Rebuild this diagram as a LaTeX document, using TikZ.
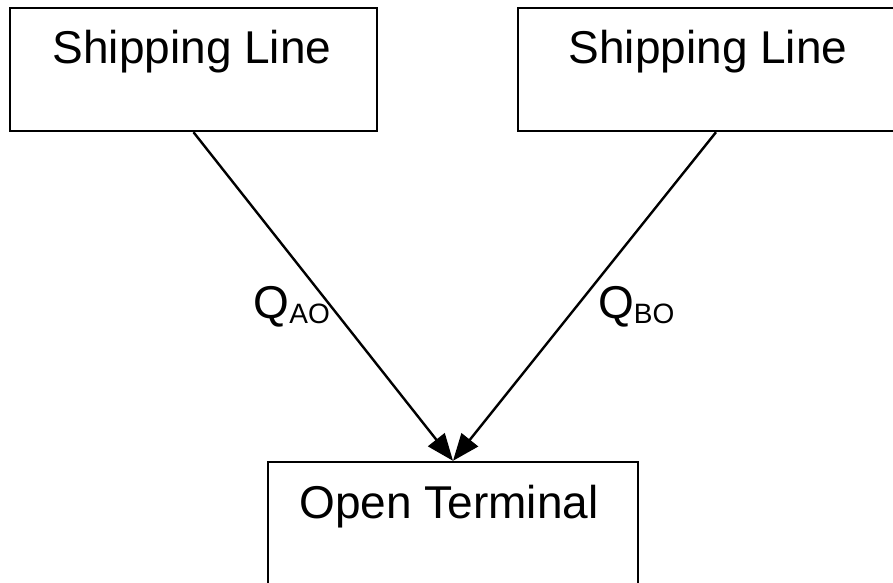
\documentclass[tikz,border=0pt]{standalone}
\usepackage{fontspec}
\setmainfont{Liberation Sans}
\usetikzlibrary{arrows.meta}

\tikzset{
  box/.style={draw=black, line width=2.4pt, rectangle, inner sep=0pt, fill=none},
  boxtext/.style={anchor=base, inner sep=0pt, font=\fontsize{46}{55}\selectfont},
  flowlabel/.style={inner sep=0pt, font=\fontsize{46}{55}\selectfont},
  flow/.style={draw=black, line width=2.4pt, -{Triangle[length=27pt,width=21pt]}}
}
\newcommand{\qsub}[1]{Q\raisebox{-5pt}{\fontsize{28}{30}\selectfont #1}}

\begin{document}
\begin{tikzpicture}[x=1pt, y=-1pt]
  \useasboundingbox (0,0) rectangle (893,582);
  \fill[white] (0,0) rectangle (893,582);
  \clip (0,0) rectangle (893,582);

  % the three parties
  \node[box, minimum width=367pt, minimum height=123pt] (lineA) at (193.5,69.5) {};
  \node[box, minimum width=396pt, minimum height=123pt] (lineB) at (716,69.5) {};
  \node[box, minimum width=370pt, minimum height=150pt] (term) at (453,537) {};

  \node[boxtext] (lineAtext) at (192,63) {Shipping Line};
  \node[boxtext] (lineBtext) at (708,63) {Shipping Line};
  \node[boxtext] (termtext) at (449,518) {Open Terminal};

  % flows into the terminal
  \draw[flow] (lineA.south) -- (term.north);
  \draw[flow] (lineB.south) -- (term.north);

  \node[flowlabel, anchor=base east] (qa) at (330,318) {\qsub{AO}};
  \node[flowlabel, anchor=base west] (qb) at (598,318) {\qsub{BO}};
\end{tikzpicture}
\end{document}
